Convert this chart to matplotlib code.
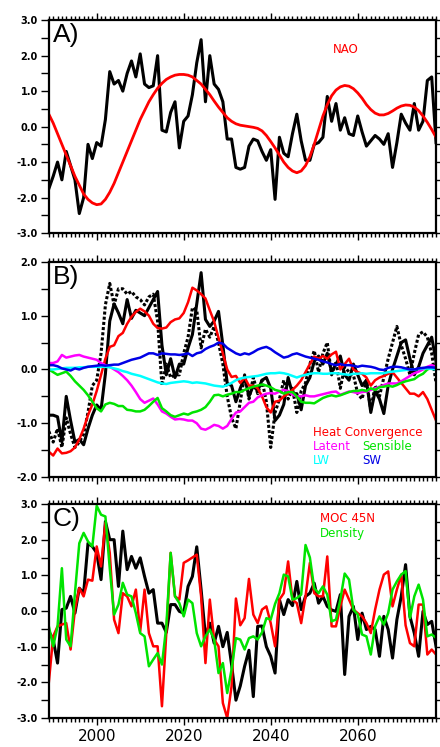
import matplotlib
matplotlib.use("Agg")
import matplotlib.pyplot as plt
import numpy as np
from matplotlib.ticker import MultipleLocator, FormatStrFormatter

plt.rcParams["font.family"] = ["DejaVu Sans"]
plt.rcParams["axes.unicode_minus"] = False

years = np.arange(1989, 2079)

# Panel A: NAO-related index (black) and smoothed NAO (red)
nao_index = [
    -1.75, -1.4, -1.0, -1.5, -0.7, -1.1, -1.5, -2.45, -2.0, -0.5,
    -0.9, -0.45, -0.55, 0.2, 1.55, 1.2, 1.3, 1.0, 1.5, 1.85,
    1.4, 2.05, 1.2, 1.1, 1.15, 2.0, -0.1, -0.15, 0.4, 0.7,
    -0.6, 0.15, 0.3, 0.9, 1.8, 2.45, 0.7, 2.0, 1.2, 1.05,
    0.7, -0.35, -0.35, -1.15, -1.2, -1.15, -0.55, -0.35, -0.4, -0.7,
    -0.95, -0.65, -2.05, -0.3, -0.75, -0.85, -0.2, 0.35, -0.4, -0.95,
    -0.95, -0.5, -0.45, -0.3, 0.85, 0.15, 0.65, -0.1, 0.25, -0.2,
    -0.25, 0.3, -0.15, -0.55, -0.4, -0.25, -0.35, -0.5, -0.2, -1.15,
    -0.45, 0.35, 0.1, -0.1, 0.65, -0.1, 0.15, 1.3, 1.4, -0.45,
]
nao_smooth = [
    0.35, 0.1, -0.2, -0.5, -0.8, -1.1, -1.4, -1.65, -1.9, -2.05,
    -2.15, -2.2, -2.18, -2.05, -1.85, -1.6, -1.3, -1.0, -0.7, -0.4,
    -0.1, 0.2, 0.45, 0.7, 0.9, 1.08, 1.22, 1.33, 1.4, 1.45,
    1.47, 1.47, 1.45, 1.4, 1.3, 1.2, 1.05, 0.9, 0.72, 0.55,
    0.4, 0.25, 0.15, 0.08, 0.04, 0.02, 0.0, -0.02, -0.05, -0.12,
    -0.25, -0.42, -0.6, -0.8, -1.0, -1.15, -1.25, -1.3, -1.25, -1.1,
    -0.85, -0.5, -0.1, 0.3, 0.62, 0.87, 1.03, 1.12, 1.16, 1.14,
    1.07, 0.95, 0.8, 0.62, 0.48, 0.38, 0.33, 0.33, 0.37, 0.44,
    0.52, 0.58, 0.61, 0.6, 0.55, 0.45, 0.3, 0.12, -0.08, -0.3,
]

# Panel B: heat budget terms
heat_solid = [
    -0.85, -0.85, -0.88, -1.35, -0.5, -0.95, -1.35, -1.3, -1.4, -1.1,
    -0.85, -0.66, -0.75, -0.08, 0.9, 1.22, 1.05, 0.85, 1.3, 0.95,
    1.1, 1.05, 1.0, 1.15, 1.3, 1.45, 0.45, -0.1, 0.2, -0.15,
    0.1, 0.1, 0.4, 0.65, 1.22, 1.8, 0.93, 0.8, 0.9, 1.08,
    0.45, -0.26, -0.3, -0.6, -0.35, -0.15, -0.5, -0.3, -0.4, -0.2,
    -0.15, -0.35, -0.95, -0.85, -0.65, -0.15, -0.45, -0.45, -0.75, -0.3,
    -0.15, 0.15, 0.25, 0.1, 0.3, -0.05, 0.1, 0.25, -0.1, -0.2,
    0.1, -0.1, -0.3, -0.2, -0.8, -0.4, -0.55, -0.82, -0.3, 0.0,
    0.25, 0.5, 0.55, 0.2, -0.1, 0.05, 0.3, 0.45, 0.6, 0.15,
]
heat_dotted = [
    -1.15, -1.35, -1.1, -1.45, -0.9, -1.2, -1.45, -1.35, -1.2, -0.8,
    -0.3, -0.2, 0.3, 1.2, 1.6, 1.2, 1.5, 1.5, 1.4, 1.45,
    1.35, 1.3, 1.2, 1.35, 1.4, 0.9, -0.3, 0.1, -0.15, -0.1,
    -0.1, 0.3, 0.6, 1.15, 1.1, 0.4, 0.75, 0.6, 0.8, 0.5,
    0.1, -0.5, -0.9, -1.1, -0.6, -0.1, -0.55, -0.15, -0.45, -0.2,
    -0.6, -1.45, -0.8, -0.55, -0.2, -0.55, -0.35, -0.8, -0.4, -0.25,
    0.1, 0.35, -0.05, 0.3, 0.5, -0.1, 0.15, -0.35, 0.05, -0.05,
    -0.1, -0.45, -0.55, -0.2, -0.75, -0.3, -0.5, -0.15, 0.2, 0.5,
    0.8, 0.45, 0.2, -0.1, 0.3, 0.65, 0.7, 0.6, 0.3, -0.25,
]
heat_conv = [
    -1.53, -1.6, -1.47, -1.56, -1.55, -1.52, -1.45, -1.3, -1.1, -0.85,
    -0.65, -0.4, -0.1, 0.2, 0.42, 0.45, 0.62, 0.68, 0.85, 0.98,
    1.07, 1.13, 1.08, 1.0, 0.85, 0.77, 0.76, 0.78, 0.88, 0.93,
    0.95, 1.05, 1.25, 1.52, 1.47, 1.4, 1.32, 1.1, 0.89, 0.59,
    0.3, 0.0, -0.14, -0.12, -0.25, -0.15, -0.3, -0.3, -0.35, -0.5,
    -0.7, -0.8, -0.6, -0.58, -0.5, -0.45, -0.38, -0.3, -0.2, -0.05,
    0.1, 0.24, 0.2, 0.25, 0.2, 0.28, 0.33, 0.0, 0.1, 0.2,
    0.0, -0.05, -0.08, -0.15, -0.3, -0.2, -0.15, -0.12, -0.08, -0.05,
    -0.15, -0.25, -0.35, -0.45, -0.45, -0.5, -0.42, -0.55, -0.75, -0.95,
]
latent = [
    0.12, 0.12, 0.15, 0.27, 0.22, 0.24, 0.26, 0.27, 0.24, 0.22,
    0.2, 0.18, 0.12, 0.08, 0.05, 0.0, -0.05, -0.12, -0.2, -0.3,
    -0.42, -0.55, -0.62, -0.58, -0.54, -0.65, -0.78, -0.82, -0.88, -0.93,
    -0.92, -0.93, -0.95, -0.95, -1.0, -1.1, -1.12, -1.08, -1.03, -1.05,
    -1.1, -1.05, -0.92, -0.8, -0.78, -0.7, -0.62, -0.6, -0.52, -0.48,
    -0.45, -0.44, -0.45, -0.41, -0.38, -0.4, -0.47, -0.5, -0.5, -0.48,
    -0.5, -0.5, -0.48, -0.46, -0.44, -0.42, -0.41, -0.47, -0.44, -0.41,
    -0.42, -0.44, -0.42, -0.41, -0.38, -0.35, -0.32, -0.29, -0.26, -0.26,
    -0.26, -0.22, -0.17, -0.12, -0.07, -0.04, 0.0, 0.05, 0.08, 0.05,
]
sensible = [
    0.0, -0.05, -0.1, -0.07, -0.04, -0.12, -0.22, -0.3, -0.38, -0.48,
    -0.6, -0.72, -0.78, -0.65, -0.62, -0.64, -0.68, -0.68, -0.75, -0.76,
    -0.78, -0.78, -0.75, -0.68, -0.6, -0.53, -0.72, -0.78, -0.85, -0.88,
    -0.85, -0.82, -0.84, -0.8, -0.78, -0.75, -0.7, -0.6, -0.48, -0.47,
    -0.5, -0.47, -0.45, -0.42, -0.42, -0.38, -0.35, -0.32, -0.3, -0.28,
    -0.3, -0.33, -0.38, -0.4, -0.45, -0.42, -0.42, -0.5, -0.6, -0.62,
    -0.62, -0.63, -0.58, -0.53, -0.5, -0.48, -0.5, -0.48, -0.45, -0.42,
    -0.4, -0.4, -0.38, -0.4, -0.35, -0.38, -0.33, -0.32, -0.3, -0.32,
    -0.29, -0.25, -0.22, -0.2, -0.18, -0.12, -0.08, 0.0, 0.03, 0.03,
]
longwave = [
    0.0, 0.0, 0.01, 0.02, 0.03, 0.03, 0.03, 0.04, 0.04, 0.05,
    0.05, 0.05, 0.05, 0.05, 0.04, 0.02, 0.0, -0.03, -0.05, -0.08,
    -0.1, -0.12, -0.15, -0.18, -0.21, -0.24, -0.26, -0.27, -0.25, -0.24,
    -0.23, -0.22, -0.23, -0.25, -0.24, -0.25, -0.26, -0.28, -0.3, -0.31,
    -0.32, -0.29, -0.25, -0.2, -0.17, -0.15, -0.14, -0.13, -0.12, -0.1,
    -0.08, -0.07, -0.07, -0.06, -0.07, -0.09, -0.12, -0.15, -0.12, -0.1,
    -0.08, -0.07, -0.07, -0.08, -0.08, -0.07, -0.07, -0.08, -0.09, -0.1,
    -0.08, -0.08, -0.07, -0.08, -0.07, -0.07, -0.07, -0.07, -0.05, -0.04,
    -0.03, -0.02, -0.01, 0.0, 0.0, 0.01, 0.02, 0.02, 0.01, 0.0,
]
shortwave = [
    0.08, 0.08, 0.06, 0.02, 0.0, -0.02, 0.02, 0.0, 0.03, 0.05,
    0.06, 0.07, 0.08, 0.07, 0.08, 0.09, 0.09, 0.12, 0.15, 0.18,
    0.2, 0.22, 0.26, 0.3, 0.3, 0.27, 0.3, 0.29, 0.28, 0.28,
    0.27, 0.28, 0.3, 0.25, 0.3, 0.32, 0.38, 0.42, 0.45, 0.5,
    0.48, 0.4, 0.35, 0.3, 0.27, 0.3, 0.28, 0.32, 0.37, 0.4,
    0.42, 0.38, 0.32, 0.27, 0.22, 0.24, 0.28, 0.3, 0.27, 0.24,
    0.22, 0.2, 0.18, 0.15, 0.13, 0.1, 0.08, 0.1, 0.08, 0.08,
    0.07, 0.05, 0.07, 0.06, 0.05, 0.03, 0.0, -0.01, 0.03, 0.05,
    0.05, 0.04, 0.02, 0.0, 0.0, 0.02, 0.03, 0.04, 0.04, 0.03,
]

# Panel C: MOC index (black), MOC 45N (red), density (green)
moc_index = [
    -0.57, -0.8, -1.46, 0.04, 0.08, 0.41, -0.06, 0.64, 0.5, 1.9,
    1.81, 1.63, 0.88, 2.51, 2.0, 2.0, 0.69, 2.24, 1.16, 1.53,
    1.2, 1.49, 0.97, 0.5, 0.6, -0.34, -0.34, -0.6, 0.18, 0.18,
    -0.01, -0.06, 0.69, 0.97, 1.8, 0.6, -0.71, -0.34, -0.9, -0.43,
    -1.0, -0.6, -1.5, -2.5, -2.1, -1.55, -1.1, -2.4, -0.43, -0.42,
    -1.0, -1.27, -1.74, 0.32, -0.1, 0.32, 0.15, 0.83, 0.04, 0.41,
    0.5, 0.78, 0.22, 0.41, 0.13, 0.03, -0.01, 0.46, -1.78, -0.15,
    0.13, -0.8, -0.06, -0.52, -0.43, -0.52, -1.27, -0.15, -0.52, -1.32,
    -0.24, 0.41, 1.3, -0.15, -0.62, -1.27, -0.01, -0.38, -0.29, -0.99,
]
moc_45n = [
    -2.0, -0.71, -0.43, -0.38, -0.34, -1.08, 0.04, 0.64, 0.41, 0.88,
    0.85, 1.81, 1.25, 2.47, 1.63, -0.24, -0.62, 0.5, 0.41, 0.13,
    0.6, -0.57, 0.6, -0.62, -0.99, -0.99, -2.67, -0.62, 1.63, 0.41,
    0.32, 1.35, 1.42, 1.5, 1.58, 0.41, -1.46, 0.32, -0.8, -0.99,
    -2.58, -3.0, -2.11, 0.35, -0.4, -0.2, 0.9, -0.1, -0.34, 0.04,
    0.13, -0.34, -0.99, 0.32, 0.5, 1.39, 0.32, 0.22, -0.34, 0.41,
    1.35, 0.5, 0.41, 0.41, 1.53, -0.43, -0.43, 0.13, 0.6, 0.32,
    0.04, -0.06, -0.15, -0.34, -0.62, 0.04, 0.6, 1.02, 1.11, 0.13,
    0.6, 1.02, -0.4, -0.9, -0.99, 0.18, 0.18, -1.22, -1.08, -1.22,
]
density = [
    -0.43, -0.99, -0.43, 1.2, -0.8, -0.99, 0.5, 1.9, 2.19, 1.95,
    1.81, 2.95, 2.7, 2.65, 1.2, -0.1, 0.18, 0.79, 0.46, 0.41,
    -0.06, -0.62, -0.71, -1.55, -1.36, -1.18, -1.5, -0.43, 1.63, 0.41,
    0.22, -0.15, 0.32, 0.22, -0.62, -0.99, -0.71, -0.52, -0.8, -1.74,
    -1.46, -2.3, -1.64, -0.76, -0.8, -1.08, -0.76, -0.71, -0.8, -0.6,
    -0.2, -0.24, 0.2, 0.5, 1.02, 0.97, 0.32, 0.36, 0.46, 1.85,
    1.5, 0.64, 0.5, 0.69, 0.46, -0.29, -0.24, 0.32, 1.05, 0.88,
    0.04, -0.1, -0.66, -0.71, -1.22, -0.43, -0.15, -0.38, -0.06, 0.6,
    0.83, 1.02, 1.12, -0.2, 0.41, 0.74, 0.32, -0.71, -0.66, -0.75,
]

RED = "#ff0000"
GREEN = "#00e400"
MAGENTA = "#ff00ff"
CYAN = "#00ffff"
BLUE = "#0000e6"


def style_axes(ax, ymax, show_xlabels):
    ax.set_xlim(1989, 2078)
    ax.set_ylim(-ymax, ymax)
    ax.xaxis.set_major_locator(MultipleLocator(20))
    ax.xaxis.set_minor_locator(MultipleLocator(1))
    ax.yaxis.set_major_locator(MultipleLocator(1.0))
    ax.yaxis.set_minor_locator(MultipleLocator(0.5))
    ax.yaxis.set_major_formatter(FormatStrFormatter("%.1f"))
    ax.tick_params(which="both", direction="out", top=True, right=True,
                   width=1.0, color="black")
    ax.tick_params(axis="x", which="major", length=5)
    ax.tick_params(axis="x", which="minor", length=3)
    ax.tick_params(axis="y", which="both", length=5.5)
    ax.tick_params(axis="y", labelsize=7, pad=2.5)
    for lab in ax.get_yticklabels():
        lab.set_fontweight("bold")
    ax.tick_params(axis="x", labelsize=11, pad=3, labelbottom=show_xlabels)
    for sp in ax.spines.values():
        sp.set_linewidth(1.6)


fig = plt.figure(figsize=(4.4, 7.47), dpi=100)
left, width = 0.111, 0.880
axA = fig.add_axes([left, 0.688, width, 0.285])
axB = fig.add_axes([left, 0.3614, width, 0.288])
axC = fig.add_axes([left, 0.0388, width, 0.2865])

panel_font = ["Liberation Sans", "DejaVu Sans"]

# Panel A
axA.plot(years, nao_index, color="black", lw=2.2)
axA.plot(years, nao_smooth, color=RED, lw=2.0)
style_axes(axA, 3.0, False)
axA.text(0.734, 0.864, "NAO", color=RED, fontsize=8.5, transform=axA.transAxes,
         ha="left", va="center")
axA.text(0.01, 0.985, "A)", fontsize=19, family=panel_font,
         transform=axA.transAxes, ha="left", va="top")

# Panel B
axB.plot(years, heat_solid, color="black", lw=2.2)
axB.plot(years, heat_dotted, color="black", lw=2.2, linestyle=(0, (1, 0.7)))
axB.plot(years, heat_conv, color=RED, lw=1.8)
axB.plot(years, latent, color=MAGENTA, lw=1.8)
axB.plot(years, sensible, color=GREEN, lw=1.8)
axB.plot(years, longwave, color=CYAN, lw=1.8)
axB.plot(years, shortwave, color=BLUE, lw=1.8)
style_axes(axB, 2.0, False)
axB.text(0.01, 0.985, "B)", fontsize=19, family=panel_font,
         transform=axB.transAxes, ha="left", va="top")
leg_b = [("Heat Convergence", RED, 0.682, 0.205),
         ("Latent", MAGENTA, 0.682, 0.144),
         ("Sensible", GREEN, 0.809, 0.144),
         ("LW", CYAN, 0.682, 0.079),
         ("SW", BLUE, 0.809, 0.079)]
for txt, col, tx, ty in leg_b:
    axB.text(tx, ty, txt, color=col, fontsize=8.5, transform=axB.transAxes,
             ha="left", va="center")

# Panel C
axC.plot(years, moc_index, color="black", lw=2.2)
axC.plot(years, moc_45n, color=RED, lw=1.8)
axC.plot(years, density, color=GREEN, lw=1.8)
style_axes(axC, 3.0, True)
axC.text(0.01, 0.985, "C)", fontsize=19, family=panel_font,
         transform=axC.transAxes, ha="left", va="top")
axC.text(0.70, 0.93, "MOC 45N", color=RED, fontsize=8.5, transform=axC.transAxes,
         ha="left", va="center")
axC.text(0.70, 0.864, "Density", color=GREEN, fontsize=8.5, transform=axC.transAxes,
         ha="left", va="center")

fig.savefig("out.png", dpi=100)
